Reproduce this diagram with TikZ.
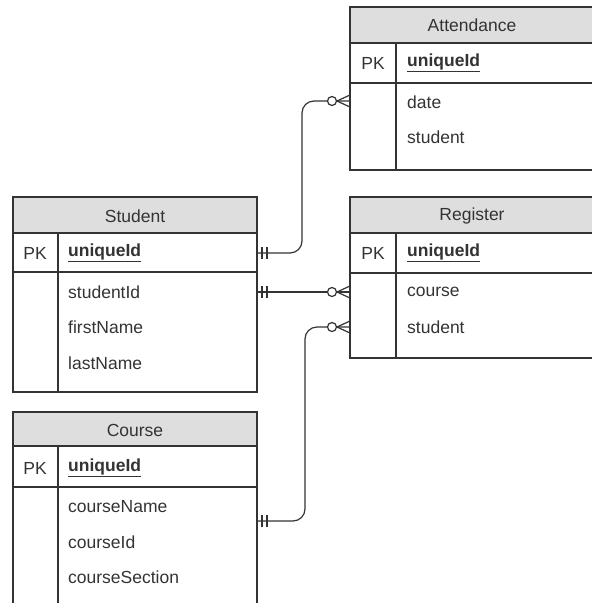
\documentclass[tikz,border=0pt]{standalone}
\usepackage{fontspec}
\setmainfont{Liberation Sans}
\usetikzlibrary{decorations.markings}
\definecolor{linegray}{HTML}{333333}
\definecolor{headgray}{HTML}{DEDEDE}
\tikzset{
  headbox/.style={draw=linegray,fill=headgray,line width=1.2pt},
  tablebox/.style={draw=linegray,line width=1.2pt},
  titletext/.style={inner sep=0pt,text=linegray,font=\fontsize{17.5}{20}\selectfont},
  pktext/.style={inner sep=0pt,text=linegray,font=\fontsize{17.5}{20}\selectfont},
  fieldtext/.style={anchor=west,inner sep=0pt,text=linegray,font=\fontsize{17.5}{20}\selectfont},
  keytext/.style={fieldtext,font=\fontsize{17.5}{20}\selectfont\bfseries},
  connector/.style={draw=linegray,line width=1.2pt,rounded corners=12pt},
  onestart/.style={postaction={decorate,decoration={markings,mark=at position 5pt with {\draw[linegray,line width=1.2pt] (0,-6pt) -- (0,6pt);},mark=at position 10pt with {\draw[linegray,line width=1.2pt] (0,-6pt) -- (0,6pt);}}}},
  manyend/.style={postaction={decorate,decoration={markings,mark=at position -18pt with {\draw[linegray,fill=white,line width=1.2pt] (0,0) circle (4.5pt);},mark=at position 0.9999 with {\draw[linegray,line width=1.2pt] (-13pt,0) -- (0,6pt) (-13pt,0) -- (0,-6pt);}}}}
}

\begin{document}
\begin{tikzpicture}[x=1pt,y=-1pt]
  \clip (0,0) rectangle (592,603);
  % Attendance
  \draw[headbox] (350,7) rectangle (594,43);
  \draw[tablebox] (350,43) rectangle (594,170);
  \draw[tablebox] (350,83) -- (594,83);
  \draw[tablebox] (396,43) -- (396,170);
  \node[titletext] (atttitle) at (472,25) {Attendance};
  \node[pktext] (attpk) at (373,63) {PK};
  \node[keytext] (attuid) at (407,63) {\underline{uniqueId}};
  \node[fieldtext] (attdate) at (407,102) {date};
  \node[fieldtext] (attstudent) at (407,137) {student};
  % Student
  \draw[headbox] (13,197) rectangle (257,233);
  \draw[tablebox] (13,233) rectangle (257,392);
  \draw[tablebox] (13,272) -- (257,272);
  \draw[tablebox] (58,233) -- (58,392);
  \node[titletext] (stutitle) at (135,216) {Student};
  \node[pktext] (stupk) at (35,253) {PK};
  \node[keytext] (stuuid) at (68,253) {\underline{uniqueId}};
  \node[fieldtext] (stusid) at (68,292) {studentId};
  \node[fieldtext] (stufirst) at (68,327) {firstName};
  \node[fieldtext] (stulast) at (68,363) {lastName};
  % Register
  \draw[headbox] (350,197) rectangle (594,233);
  \draw[tablebox] (350,233) rectangle (594,358);
  \draw[tablebox] (350,273) -- (594,273);
  \draw[tablebox] (396,233) -- (396,358);
  \node[titletext] (regtitle) at (472,216) {Register};
  \node[pktext] (regpk) at (373,253) {PK};
  \node[keytext] (reguid) at (407,253) {\underline{uniqueId}};
  \node[fieldtext] (regcourse) at (407,292) {course};
  \node[fieldtext] (regstudent) at (407,327) {student};
  % Course
  \draw[headbox] (13,412) rectangle (257,446);
  \draw[tablebox] (13,446) rectangle (257,610);
  \draw[tablebox] (13,487) -- (257,487);
  \draw[tablebox] (58,446) -- (58,610);
  \node[titletext] (crstitle) at (135,430) {Course};
  \node[pktext] (crspk) at (35,468) {PK};
  \node[keytext] (crsuid) at (68,468) {\underline{uniqueId}};
  \node[fieldtext] (crsname) at (68,507) {courseName};
  \node[fieldtext] (crsid) at (68,542) {courseId};
  \node[fieldtext] (crssection) at (68,577) {courseSection};
  % ports and bends
  \coordinate (stuport1) at (257,253);
  \coordinate (stuport2) at (257,292);
  \coordinate (crsport) at (257,521);
  \coordinate (attport) at (350,101);
  \coordinate (regport1) at (350,292);
  \coordinate (regport2) at (350,327);
  \coordinate (jogatt) at (302,0);
  \coordinate (jogcrs) at (305,0);
  % relations
  \draw[connector,onestart,manyend] (stuport1) -- (stuport1 -| jogatt) -- (attport -| jogatt) -- (attport);
  \draw[connector,onestart,manyend] (stuport2) -- (regport1);
  \draw[connector,onestart,manyend] (crsport) -- (crsport -| jogcrs) -- (regport2 -| jogcrs) -- (regport2);
\end{tikzpicture}
\end{document}
